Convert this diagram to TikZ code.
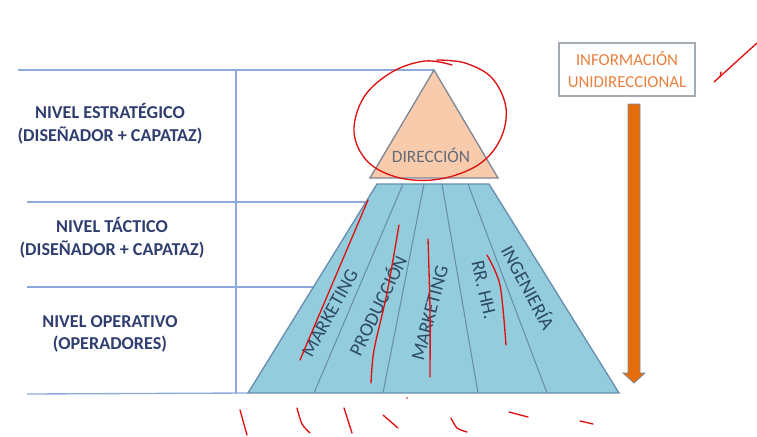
\documentclass[tikz,border=0pt]{standalone}
\usepackage{fontspec}
\setmainfont{Carlito}
\usetikzlibrary{calc}

\definecolor{lineblue}{HTML}{8EA9DB}
\definecolor{levelnavy}{HTML}{2F3E6E}
\definecolor{peach}{HTML}{F8CBAD}
\definecolor{edgegrey}{HTML}{7F8796}
\definecolor{areablue}{HTML}{93CDDD}
\definecolor{areaedge}{HTML}{41719C}
\definecolor{areatext}{HTML}{2E4A66}
\definecolor{infoorange}{HTML}{E46C0A}
\definecolor{infotext}{HTML}{E9803F}
\definecolor{penred}{HTML}{E01010}

\begin{document}
\begin{tikzpicture}[
    x=0.75pt, y=-0.75pt,
    levelline/.style={draw=lineblue, line width=1pt},
    leveltext/.style={text=levelnavy, font=\bfseries\fontsize{13.6}{17}\selectfont, align=center},
    areatext/.style={text=areatext, font=\fontsize{14.5}{16}\selectfont},
    infobox/.style={draw=edgegrey!70, line width=1pt, fill=white, minimum width=102pt, minimum height=39.75pt, text=infotext, align=center, font=\fontsize{12.6}{16.5}\selectfont},
    infoarrow/.style={fill=infoorange, draw=edgegrey, line width=0.6pt},
    redmark/.style={draw=penred, line width=1pt, line cap=round, line join=round}
]

\useasboundingbox (0,0) rectangle (757,436);

% pyramid corners
\coordinate (apex) at (434,70);
\coordinate (triL) at (370,178);
\coordinate (triR) at (498,178);

\foreach \i/\x in {0/377, 1/403, 2/424, 3/442, 4/468, 5/489}
    \coordinate (t\i) at (\x,184);
\foreach \i/\x in {0/248, 1/314, 2/383, 3/478, 4/547, 5/619}
    \coordinate (b\i) at (\x,393);

% level lines
\coordinate (lvlA) at (18,70);
\coordinate (lvlB) at (27,202);
\coordinate (lvlC) at (27,287);
\coordinate (lvlD) at (27,394);
\coordinate (edgeB) at (366,202);
\coordinate (edgeC) at (313,287);
\coordinate (axisTop) at (236,70);
\coordinate (axisBot) at (236,394);

\draw[levelline] (lvlA) -- (apex);
\draw[levelline] (lvlB) -- (edgeB);
\draw[levelline] (lvlC) -- (edgeC);
\draw[levelline] (lvlD) -- (b0);
\draw[levelline] (axisTop) -- (axisBot);

\node[leveltext] (estrategico) at (110,124) {NIVEL ESTRATÉGICO\\(DISEÑADOR + CAPATAZ)};
\node[leveltext] (tactico) at (112,238) {NIVEL TÁCTICO\\(DISEÑADOR + CAPATAZ)};
\node[leveltext] (operativo) at (110,334) {NIVEL OPERATIVO\\(OPERADORES)};

% pyramid
\draw[fill=peach, draw=edgegrey, line width=1pt] (apex) -- (triR) -- (triL) -- cycle;
\node[text=edgegrey!80!black, font=\fontsize{13}{14}\selectfont] (direccion) at (431,155) {DIRECCIÓN};

\draw[fill=areablue, draw=areaedge!80, line width=1pt] (t0) -- (t5) -- (b5) -- (b0) -- cycle;
\foreach \i in {1,...,4}
    \draw[areaedge!80, line width=0.8pt] (t\i) -- (b\i);

\node[areatext, rotate=61] (mkt) at (330,313) {MARKETING};
\node[areatext, rotate=64] (prod) at (377,305) {PRODUCCIÓN};
\node[areatext, rotate=75] (mktb) at (430,313) {MARKETING};
\node[areatext, rotate=-77] (rrhh) at (484,290) {RR. HH.};
\node[areatext, rotate=-62] (ing) at (529,287) {INGENIERÍA};

% information flow
\node[infobox] (info) at (627,69.5) {INFORMACIÓN\\UNIDIRECCIONAL};
\coordinate (arrowtop) at (634,104);
\coordinate (arrowtip) at (634,383);
\draw[infoarrow] ($(arrowtop)+(-6,0)$) -- ($(arrowtop)+(6,0)$) -- ($(arrowtip)+(6,-10)$)
    -- ($(arrowtip)+(11,-10)$) -- (arrowtip) -- ($(arrowtip)+(-11,-10)$)
    -- ($(arrowtip)+(-6,-10)$) -- cycle;

% pen marks
\draw[redmark] plot[smooth, tension=0.6] coordinates {(437,60) (465,63) (492,78) (506,108) (500,140) (478,165) (440,179) (400,178) (368,162) (354,132) (364,97) (392,72) (425,61) (452,65)};
\draw[redmark] (757,43) -- (714,82);
\draw[redmark] (720,77) -- (721,72);
\draw[redmark] (368,200) -- (300,360);
\draw[redmark] plot[smooth] coordinates {(399,225) (387,293) (374,350) (371,383)};
\draw[redmark] plot[smooth] coordinates {(428,239) (430,310) (430,377)};
\draw[redmark] plot[smooth] coordinates {(487,255) (500,285) (506,345)};
\draw[redmark] (240,410) -- (247,435);
\draw[redmark] plot[smooth] coordinates {(297,408) (302,424) (310,433)};
\draw[redmark] (344,408) -- (352,433);
\draw[redmark] (383,415) -- (398,428);
\draw[redmark] plot[smooth] coordinates {(451,418) (457,428) (467,432)};
\draw[redmark] (509,412) -- (528,417);
\draw[redmark] (580,421) -- (593,424);
\fill[penred] (407,398) circle (0.8);

\end{tikzpicture}
\end{document}
